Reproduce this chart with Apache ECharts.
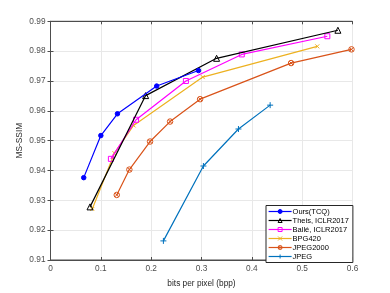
<!DOCTYPE html>
<html><head><meta charset="utf-8">
<script src="https://cdn.jsdelivr.net/npm/echarts@6/dist/echarts.min.js"></script>
<style>html,body{margin:0;padding:0;background:#fff}#c{width:390px;height:293px}</style>
</head><body><div id="c"></div>
<script>
const seriesNames = ['Ours(TCQ)', 'Theis, ICLR2017', 'Ballé, ICLR2017', 'BPG420', 'JPEG2000', 'JPEG'];
const oursX = [0.066, 0.100, 0.133, 0.211, 0.294];
const oursY = [0.9376, 0.9517, 0.9590, 0.9683, 0.9735];
const theisX = [0.0785, 0.189, 0.330, 0.571];
const theisY = [0.9278, 0.9651, 0.9776, 0.9870];
const balleX = [0.120, 0.170, 0.269, 0.380, 0.550];
const balleY = [0.9439, 0.9570, 0.9700, 0.9789, 0.9850];
const bpgX = [0.083, 0.127, 0.165, 0.3025, 0.530];
const bpgY = [0.9271, 0.9458, 0.9551, 0.9713, 0.9816];
const j2kX = [0.1316, 0.1567, 0.1978, 0.2376, 0.2972, 0.478, 0.598];
const j2kY = [0.9318, 0.9403, 0.9497, 0.9564, 0.9639, 0.9760, 0.9806];
const jpegX = [0.2243, 0.3038, 0.3734, 0.4364];
const jpegY = [0.9164, 0.9415, 0.9539, 0.9619];
const xTicks = ['0', '0.1', '0.2', '0.3', '0.4', '0.5', '0.6'];
const yTicks = ['0.91', '0.92', '0.93', '0.94', '0.95', '0.96', '0.97', '0.98', '0.99'];

const zip = (a, b) => a.map((v, i) => [v, b[i]]);
const colors = ['#0000ff', '#000000', '#ff00ff', '#EDB120', '#D95319', '#0072BD'];
const X_PATH = 'path://M0,0L10,10M10,0L0,10';
const PLUS_PATH = 'path://M5,0L5,10M0,5L10,5';
const CIRCX_PATH = 'path://M10,5A5,5,0,1,1,0,5A5,5,0,1,1,10,5ZM1.5,1.5L8.5,8.5M8.5,1.5L1.5,8.5';
const symbols = [
  {symbol: 'circle', size: 4.5, fill: '#0000ff'},
  {symbol: 'triangle', size: 6, fill: 'none'},
  {symbol: 'rect', size: 5, fill: 'none'},
  {symbol: X_PATH, size: 4, fill: 'none'},
  {symbol: CIRCX_PATH, size: 5.5, fill: 'none'},
  {symbol: PLUS_PATH, size: 6, fill: 'none'}
];
const datas = [zip(oursX, oursY), zip(theisX, theisY), zip(balleX, balleY), zip(bpgX, bpgY), zip(j2kX, j2kY), zip(jpegX, jpegY)];

const font = 'Liberation Sans, Arial, sans-serif';
const axisCol = '#4d4d4d';
const chart = echarts.init(document.getElementById('c'), null, {renderer: 'canvas'});
const fmtX = v => xTicks[Math.round(v * 10)];
const fmtY = v => yTicks[Math.round(v * 100) - 91];
const fillOf = i => symbols[i].fill === 'none' ? 'rgba(255,255,255,0)' : symbols[i].fill;
chart.setOption({
  animation: false,
  backgroundColor: '#fff',
  grid: {left: 50.5, right: 37.5, top: 21.3, bottom: 33, show: true, borderColor: axisCol, borderWidth: 1},
  xAxis: [{
    type: 'value', min: 0, max: 0.6, interval: 0.1,
    name: 'bits per pixel (bpp)', nameLocation: 'middle', nameGap: 20, nameMoveOverlap: false,
    nameTextStyle: {fontFamily: font, fontSize: 8.3, color: '#262626'},
    axisLine: {lineStyle: {color: axisCol, width: 1}},
    axisTick: {inside: true, length: 3, lineStyle: {color: axisCol}},
    axisLabel: {formatter: fmtX, fontFamily: font, fontSize: 8.3, color: '#4d4d4d', margin: 5},
    splitLine: {show: true, lineStyle: {color: '#e8e8e8', width: 1}}
  }, {
    type: 'value', min: 0, max: 0.6, interval: 0.1, position: 'top',
    axisLine: {show: true, lineStyle: {color: axisCol}},
    axisTick: {show: true, inside: true, length: 3, lineStyle: {color: axisCol}},
    axisLabel: {show: false}, splitLine: {show: false}
  }],
  yAxis: [{
    type: 'value', min: 0.91, max: 0.99, interval: 0.01,
    name: 'MS-SSIM', nameLocation: 'middle', nameGap: 27, nameMoveOverlap: false,
    nameTextStyle: {fontFamily: font, fontSize: 8.3, color: '#262626'},
    axisLine: {show: true, lineStyle: {color: axisCol, width: 1}},
    axisTick: {show: true, inside: true, length: 3, lineStyle: {color: axisCol}},
    axisLabel: {formatter: fmtY, fontFamily: font, fontSize: 8.3, color: '#4d4d4d', margin: 5},
    splitLine: {show: true, lineStyle: {color: '#e8e8e8', width: 1}}
  }, {
    type: 'value', min: 0.91, max: 0.99, interval: 0.01, position: 'right',
    axisLine: {show: true, lineStyle: {color: axisCol}},
    axisTick: {show: true, inside: true, length: 3, lineStyle: {color: axisCol}},
    axisLabel: {show: false}, splitLine: {show: false}
  }],
  legend: {
    orient: 'vertical', left: 266, top: 205.5,
    backgroundColor: '#fff', borderColor: '#262626', borderWidth: 1,
    padding: [2, 4, 2, 2], itemGap: 1, itemWidth: 23, itemHeight: 5,
    lineStyle: {width: 1.2},
    textStyle: {fontFamily: font, fontSize: 7.5, lineHeight: 7.5, color: '#000', padding: [0, 0, 0, -4]},
    data: seriesNames.map((n, i) => ({name: n, itemStyle: {color: fillOf(i), borderColor: colors[i], borderWidth: 1}}))
  },
  series: seriesNames.map((n, i) => ({
    name: n, type: 'line', data: datas[i],
    xAxisIndex: 0, yAxisIndex: 0,
    symbol: symbols[i].symbol, symbolSize: symbols[i].size, showSymbol: true,
    lineStyle: {color: colors[i], width: 1.2},
    itemStyle: {color: fillOf(i), borderColor: colors[i], borderWidth: 1},
    z: 10 - i
  }))
});
</script></body></html>
